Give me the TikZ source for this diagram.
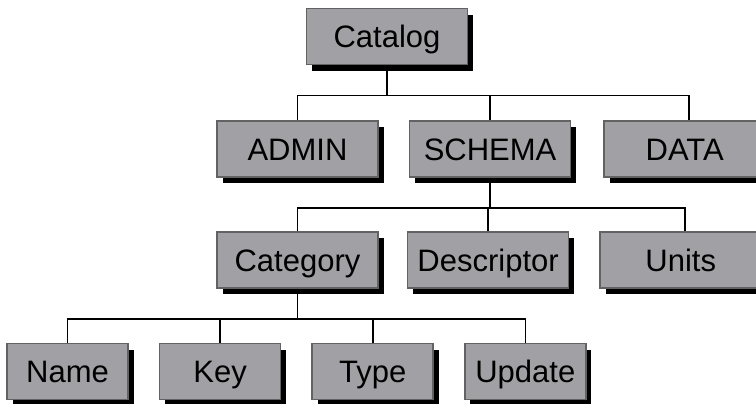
\documentclass[tikz,border=0pt]{standalone}
\usepackage{fontspec}
\setmainfont{Liberation Sans}
\usetikzlibrary{positioning,shadows}
\definecolor{boxfill}{RGB}{161,160,165}
\definecolor{boxline}{RGB}{98,98,98}
\begin{document}
\begin{tikzpicture}[node distance={15pt}, thick, main/.style = {draw=boxline, fill=boxfill, minimum width=80.5pt, minimum height=28pt, font=\fontsize{15.5}{18}\selectfont, text height=11pt, text depth=0pt, drop shadow={shadow xshift=2.75pt, shadow yshift=-3pt, fill=black, opacity=1}}, leaf/.style = {main, minimum width=60.5pt}]
                \useasboundingbox (0,0) rectangle (378pt,-201.5pt);
                \node[main] (1) at (193.5pt,-18.25pt) {Catalog};
                \node[main] (2) at (148.75pt,-74.5pt) {ADMIN};
                \node[main] (3) [right=of 2] {SCHEMA};
                \node[main] (4) [right=16pt of 3] {DATA};
                \node[main] (5) at (148.75pt,-130pt) {Category};
                \node[main] (6) [right=14pt of 5] {Descriptor};
                \node[main] (7) [right=of 6] {Units};
                \node[leaf] (8) at (33.75pt,-185.75pt) {Name};
                \node[leaf] (9) [right=of 8] {Key};
                \node[leaf] (10) [right=of 9] {Type};
                \node[leaf] (11) [right=of 10] {Update};
                \draw (1.south) -- ++(0,-15pt) -| (2.north);
                \draw (1.south) -- ++(0,-15pt) -| (3.north);
                \draw (1.south) -- ++(0,-15pt) -| ([xshift=2pt]4.north);
                \draw (3.south) -- ++(0,-15pt) -| (5.north);
                \draw (3.south) -- ++(0,-15pt) -| (6.north);
                \draw (3.south) -- ++(0,-15pt) -| ([xshift=2pt]7.north);
                \draw (5.south) -- ++(0,-15pt) -| (8.north);
                \draw (5.south) -- ++(0,-15pt) -| (9.north);
                \draw (5.south) -- ++(0,-15pt) -| (10.north);
                \draw (5.south) -- ++(0,-15pt) -| (11.north);
            \end{tikzpicture}
\end{document}
